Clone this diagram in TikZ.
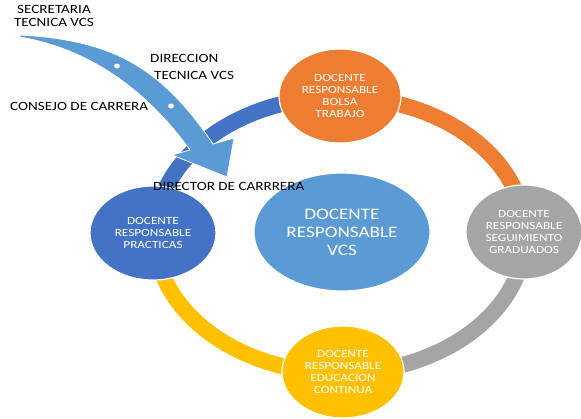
\documentclass[tikz,border=0pt]{standalone}
\usepackage{fontspec}
\setmainfont{Carlito}[FakeStretch=1.2]
\usetikzlibrary{shapes.geometric}
\definecolor{cblue}{HTML}{4472C4}
\definecolor{corange}{HTML}{ED7D31}
\definecolor{cgray}{HTML}{A5A5A5}
\definecolor{cyellow}{HTML}{FFC000}
\definecolor{clight}{HTML}{5B9BD5}
\tikzset{
  ring/.style={line width=16pt},
  bubble/.style={ellipse, draw=white, line width=1.2pt, inner sep=0pt, text=white, align=center,
    font=\fontsize{11}{12}\selectfont},
  lbl/.style={text=black, font=\fontsize{12.6}{13}\selectfont, inner sep=0pt, anchor=west}
}
\begin{document}
\begin{tikzpicture}[x=1pt,y=-1pt]
\useasboundingbox (0,0) rectangle (581,418);
\fill[white] (0,0) rectangle (581,418);
% ring
\coordinate (rc) at (340,235);
\draw[ring, cblue] ([shift={(rc)}]180:185 and 138) arc[start angle=180, end angle=270, x radius=185, y radius=138];
\draw[ring, corange] ([shift={(rc)}]270:185 and 138) arc[start angle=270, end angle=360, x radius=185, y radius=138];
\draw[ring, cgray] ([shift={(rc)}]0:185 and 138) arc[start angle=0, end angle=90, x radius=185, y radius=138];
\draw[ring, cyellow] ([shift={(rc)}]90:185 and 138) arc[start angle=90, end angle=180, x radius=185, y radius=138];
% bubbles
\node[bubble, fill=corange, minimum width=122pt, minimum height=94pt] (bolsa) at (340,96) {DOCENTE\\RESPONSABLE\\BOLSA\\TRABAJO};
\node[bubble, fill=cgray, minimum width=116pt, minimum height=94pt] (seg) at (524,232) {DOCENTE\\RESPONSABLE\\SEGUIMIENTO\\GRADUADOS};
\node[bubble, fill=cyellow, minimum width=122pt, minimum height=92pt] (edu) at (343,372) {DOCENTE\\RESPONSABLE\\EDUCACION\\CONTINUA};
\node[bubble, fill=cblue, minimum width=126pt, minimum height=94pt] (prac) at (153,233) {DOCENTE\\RESPONSABLE\\PRACTICAS};
\node[bubble, fill=clight, minimum width=176pt, minimum height=118pt, font=\fontsize{16}{18}\selectfont] (vcs) at (342,232) {DOCENTE\\RESPONSABLE\\VCS};
% curved arrow
\fill[clight, draw=white, line width=0.8pt]
  (20,35) .. controls (110,40) and (160,65) .. (213,144)
  -- (234,138) -- (227,177) -- (172,155) -- (190,150)
  .. controls (150,95) and (95,50) .. (20,37) -- cycle;
\fill[white, draw=gray!60, line width=0.4pt] (117,66) ellipse (3pt and 2.5pt);
\fill[white, draw=gray!60, line width=0.4pt] (171,106) ellipse (3pt and 2.5pt);
% labels
\node[lbl, align=center, anchor=north] (sec) at (54,5) {SECRETARIA\\TECNICA VCS};
\node[lbl] (dir1) at (150,58) {DIRECCION};
\node[lbl] (dir2) at (154,75) {TECNICA VCS};
\node[lbl] (cons) at (10,106) {CONSEJO DE CARRERA};
\node[lbl] (dirc) at (153,186) {DIRECTOR DE CARRRERA};
\end{tikzpicture}
\end{document}
